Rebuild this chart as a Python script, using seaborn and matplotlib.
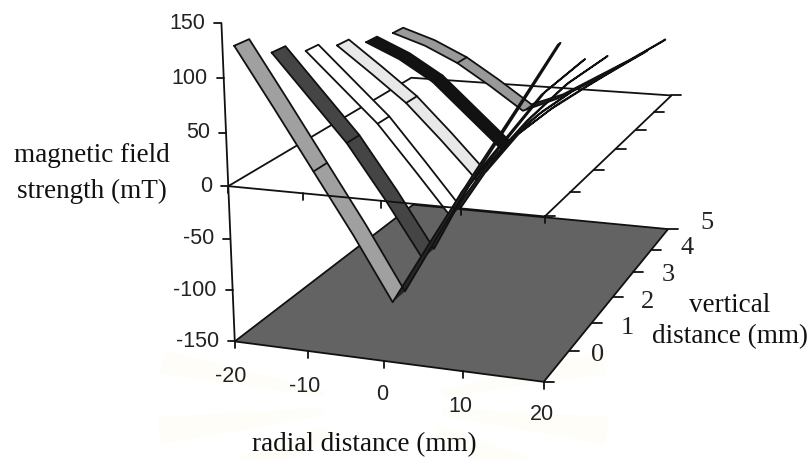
import numpy as np
import seaborn as sns
import matplotlib.pyplot as plt
from matplotlib.patches import Wedge

radial = [-20, -15, -10, -5, 0, 5, 10, 15, 20]
vertical = [0, 1, 2, 3, 4, 5]
field_0 = [125, 70, 14, -42, -102, -39, 22, 81, 141]
field_1 = [103, 62, 21, -30, -85, -18, 30, 78, 111]
field_2 = [89, 55, 21, -22, -66, -11, 33, 70, 98]
field_3 = [79, 52, 24, -12, -50, -5, 26, 52, 77]
field_4 = [67, 51, 29, -4, -37, -1, 27, 48, 72]
field_5 = [62, 50, 33, 10, -15, 0, 22, 44, 68]
fields = [field_0, field_1, field_2, field_3, field_4, field_5]
ribbon_colors = ["#a0a0a0", "#454545", "#ffffff", "#e8e8e8", "#121212", "#999999"]
half_width = [0.2, 0.2, 0.2, 0.2, 0.2, 0.13, 0.1, 0.07, 0.05]

field_ticks = [150, 100, 50, 0, -50, -100, -150]
radial_ticks = [-20, -10, 0, 10, 20]

# box corners of the Excel style 3D chart -> where they land in the picture
anchors = [
    (-20, -0.5, -150, 235, 342), (-20, -0.5, 0, 228, 185), (-20, -0.5, 150, 222, 23),
    (20, -0.5, -150, 543, 382), (20, -0.5, 0, 545, 217),
    (20, 5.5, -150, 668, 228), (20, 5.5, 0, 672, 96),
    (-20, 5.5, -150, 414, 205), (-20, 5.5, 0, 410, 78),
]


def fit_projection(points):
    rows = []
    for r, d, v, px, py in points:
        w = [r, d, v, 1]
        rows.append(w + [0, 0, 0, 0] + [-px * c for c in w])
        rows.append([0, 0, 0, 0] + w + [-py * c for c in w])
    return np.linalg.svd(np.array(rows, dtype=float))[2][-1].reshape(3, 4)


P = fit_projection(anchors)


def project(r, d, v):
    pts = np.column_stack([r, d, v, np.ones(len(r))]) @ P.T
    return pts[:, 0] / pts[:, 2], pts[:, 1] / pts[:, 2]


sns.set_theme(style="white")
fig = plt.figure(figsize=(8.12, 4.59), dpi=100)
ax = fig.add_axes([0, 0, 1, 1])
ax.set_xlim(0, 812)
ax.set_ylim(459, 0)
ax.axis("off")

ink = "#111111"


def line3d(r, d, v, z=5, lw=1.3, color=ink):
    x, y = project(r, d, v)
    sns.lineplot(x=x, y=y, ax=ax, color=color, lw=lw, sort=False, estimator=None,
                 legend=False, zorder=z)


# very faint watermark rays behind everything
for a0, a1 in [(3, 10), (20, 30), (150, 160), (170, 177), (188, 194), (-14, -8)]:
    ax.add_patch(Wedge((383, 405), 225, a0, a1, width=165, facecolor="#fefdf7",
                       edgecolor="none", zorder=0))

# floor
x, y = project([-20, 20, 20, -20], [-0.5, -0.5, 5.5, 5.5], [-150] * 4)
ax.fill(x, y, facecolor="#636363", edgecolor=ink, lw=1.3, zorder=1)

# zero plane, back and side edges sit behind the ribbons
line3d([-20, -20, 20, 20], [-0.5, 5.5, 5.5, -0.5], [0, 0, 0, 0], z=2)

# ribbons, back to front
rr = np.array(radial, dtype=float)
ww = np.array(half_width)
mid = radial.index(0)
for k in range(5, -1, -1):
    vv = np.array(fields[k], dtype=float)
    r_loop = np.r_[rr, rr[::-1], rr[0]]
    d_loop = np.r_[k - ww, (k + ww)[::-1], k - ww[0]]
    v_loop = np.r_[vv, vv[::-1], vv[0]]
    x, y = project(r_loop, d_loop, v_loop)
    z = 10 + 2 * (5 - k)
    ax.fill(x, y, facecolor=ribbon_colors[k], edgecolor="none", zorder=z)
    # the right arm is seen nearly edge on, so it reads dark
    xr, yr = project(np.r_[rr[mid:], rr[mid:][::-1]],
                     np.r_[k - ww[mid:], (k + ww[mid:])[::-1]],
                     np.r_[vv[mid:], vv[mid:][::-1]])
    ax.fill(xr, yr, facecolor="#262626", edgecolor="none", zorder=z)
    line3d(r_loop, d_loop, v_loop, z=z + 1)
    # seam across the ribbon at -10
    i = radial.index(-10)
    line3d([-10, -10], [k - ww[i], k + ww[i]], [vv[i], vv[i]], z=z + 1)

# front edges and axes on top
line3d([-20, 20], [-0.5, -0.5], [0, 0], z=40)
line3d([-20, -20], [-0.5, -0.5], [-150, 150], z=40)

tick_len = 7
for t in field_ticks:
    x, y = project([-20], [-0.5], [t])
    ax.plot([x[0] - tick_len, x[0]], [y[0], y[0]], color=ink, lw=1.3, zorder=40)
    ax.text(x[0] - 16, y[0], str(t), ha="right", va="center",
            family="Liberation Sans", fontsize=15.5, color="#222222")

for t in radial_ticks:
    for level in (-150, 0):
        x, y = project([t], [-0.5], [level])
        ax.plot([x[0], x[0]], [y[0], y[0] + tick_len], color=ink, lw=1.3, zorder=40)

for b in np.arange(-0.5, 6):
    for level in (-150, 0):
        x, y = project([20], [b], [level])
        ax.plot([x[0], x[0] + 10], [y[0], y[0]], color=ink, lw=1.3, zorder=40)

radial_label_xy = [(231, 376), (305, 387), (382, 395), (460, 406), (542, 414)]
for t, (lx, ly) in zip(radial_ticks, radial_label_xy):
    ax.text(lx, ly, str(t), ha="center", va="center", family="Liberation Sans",
            fontsize=15.5, color="#222222")

vertical_label_xy = [(598, 355), (627, 328), (648, 302), (668, 275), (687, 248), (707, 223)]
for t, (lx, ly) in zip(vertical, vertical_label_xy):
    ax.text(lx, ly, str(t), ha="center", va="center", family="Liberation Serif",
            fontsize=19, color="#222222")

for s, lx, ly in [("magnetic field", 92, 155), ("strength (mT)", 92, 191),
                  ("vertical", 730, 305), ("distance (mm)", 730, 337),
                  ("radial distance (mm)", 364, 445)]:
    ax.text(lx, ly, s, ha="center", va="center", family="Liberation Serif",
            fontsize=19.5, color="#111111")

fig.savefig("out.png", dpi=100)
